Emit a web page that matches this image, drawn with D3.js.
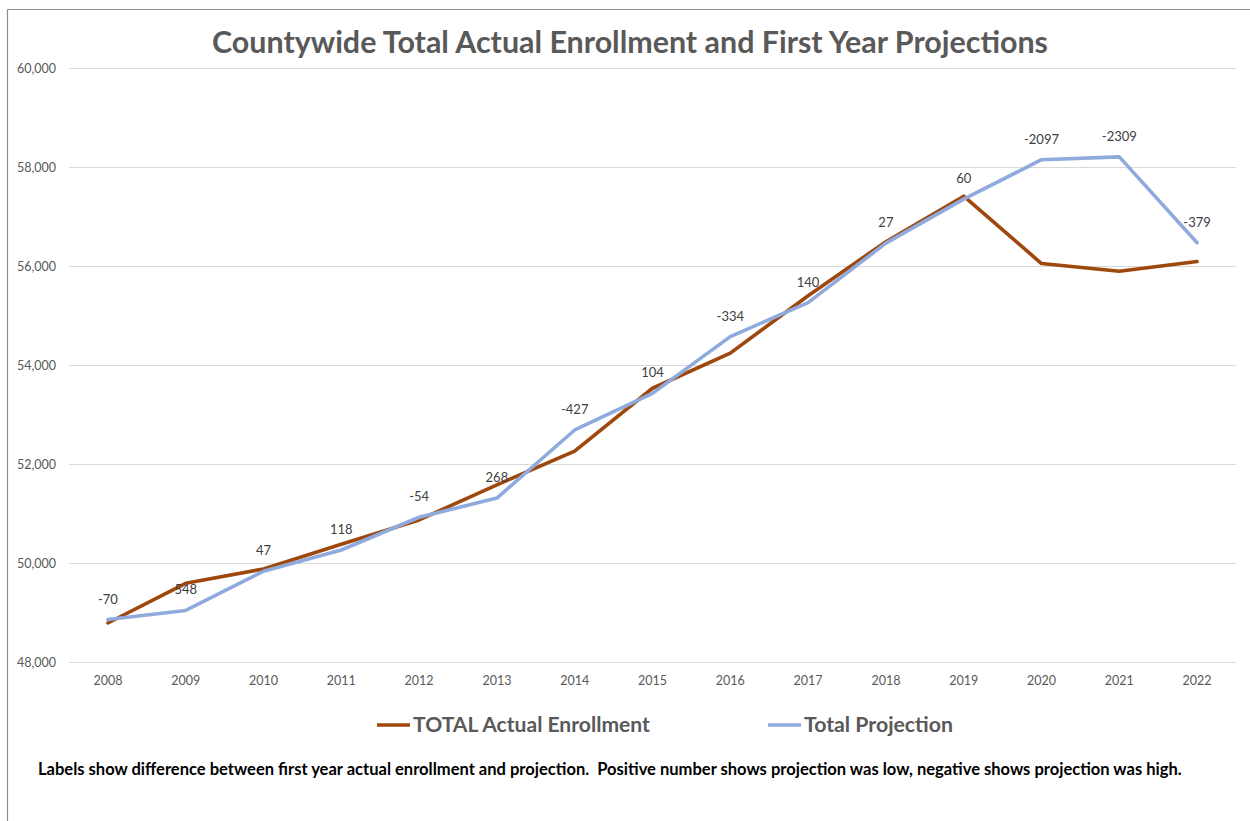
<!DOCTYPE html>
<html>
<head>
<meta charset="utf-8">
<script src="https://cdn.jsdelivr.net/npm/d3@7"></script>
<style>
  html, body { margin: 0; padding: 0; background: #fff; }
  svg { display: block; font-family: Lato, "Open Sans", "DejaVu Sans", sans-serif; }
</style>
</head>
<body>
<svg id="chart" width="1250" height="821"></svg>
<script>
// School years shown on the category axis
const years = ["2008","2009","2010","2011","2012","2013","2014","2015","2016","2017","2018","2019","2020","2021","2022"];

// Countywide actual enrollment, by year
const actualEnrollment = [48788, 49590, 49880, 50380, 50870, 51580, 52260, 53530, 54240, 55400, 56490, 57410, 56050, 55895, 56090];

// First-year projection for the same years
const totalProjection = [48858, 49042, 49833, 50262, 50924, 51312, 52687, 53426, 54574, 55260, 56463, 57350, 58147, 58204, 56469];

// Difference labels (actual minus projection)
const diffLabels = ["-70","548","47","118","-54","268","-427","104","-334","140","27","60","-2097","-2309","-379"];

// Value axis ticks
const yTicks = [48000, 50000, 52000, 54000, 56000, 58000, 60000];

const seriesNames = ["TOTAL Actual Enrollment", "Total Projection"];
const seriesColors = ["#9E480E", "#8FAADC"];

const svg = d3.select("#chart");
const W = 1250, H = 821;

// Fit a text element to a given width by scaling its font size
function fitWidth(sel, target) {
  const node = sel.node();
  const fs = parseFloat(sel.attr("font-size"));
  const w = node.getComputedTextLength();
  if (w > 0) sel.attr("font-size", (fs * target / w).toFixed(2));
}

// Outer frame (top and left edges)
svg.append("line").attr("x1", 7.5).attr("x2", W).attr("y1", 9.5).attr("y2", 9.5)
  .attr("stroke", "#8c8c8c").attr("stroke-width", 1.2);
svg.append("line").attr("x1", 7.5).attr("x2", 7.5).attr("y1", 9.5).attr("y2", H)
  .attr("stroke", "#8c8c8c").attr("stroke-width", 1.2);

const plot = { left: 69, right: 1236, top: 68, bottom: 662 };

const x = d3.scaleBand().domain(years).range([plot.left, plot.right]);
const y = d3.scaleLinear().domain([48000, 60000]).range([plot.bottom, plot.top]);
const cx = d => x(d) + x.bandwidth() / 2;

// Gridlines and value labels
const yAxis = d3.axisLeft(y).tickValues(yTicks).tickFormat(d3.format(",")).tickSize(-(plot.right - plot.left)).tickPadding(13);
const gy = svg.append("g").attr("transform", `translate(${plot.left},0)`).call(yAxis);
gy.select(".domain").remove();
gy.selectAll(".tick line").attr("stroke", "#d9d9d9").attr("stroke-width", 1);
gy.selectAll(".tick text").attr("fill", "#595959").attr("font-size", 12.5).attr("font-family", "Lato, sans-serif");

// Category labels
const xAxis = d3.axisBottom(x).tickSize(0).tickPadding(14);
const gx = svg.append("g").attr("transform", `translate(0,${plot.bottom})`).call(xAxis);
gx.select(".domain").remove();
gx.selectAll(".tick text").attr("fill", "#595959").attr("font-size", 12.5).attr("font-family", "Lato, sans-serif");

// Series lines
const line = d3.line().x((d, i) => cx(years[i])).y(d => y(d));
[actualEnrollment, totalProjection].forEach((vals, k) => {
  svg.append("path")
    .datum(vals)
    .attr("d", line)
    .attr("fill", "none")
    .attr("stroke", seriesColors[k])
    .attr("stroke-width", 3.6)
    .attr("stroke-linejoin", "round")
    .attr("stroke-linecap", "round");
});

// Difference labels above the projection points
svg.append("g").selectAll("text")
  .data(diffLabels)
  .join("text")
  .attr("x", (d, i) => cx(years[i]))
  .attr("y", (d, i) => y(totalProjection[i]) - 16)
  .attr("text-anchor", "middle")
  .attr("fill", "#404040")
  .attr("font-size", 13)
  .text(d => d);

// Title
const title = svg.append("text")
  .attr("x", 630).attr("y", 53)
  .attr("text-anchor", "middle")
  .attr("fill", "#595959")
  .attr("font-weight", "bold")
  .attr("font-size", 30)
  .text("Countywide Total Actual Enrollment and First Year Projections");
fitWidth(title, 836);

// Legend
const legendItems = [
  { x0: 377, tx: 413, w: 237 },
  { x0: 768, tx: 804, w: 149 }
];
legendItems.forEach((it, k) => {
  svg.append("line")
    .attr("x1", it.x0).attr("x2", it.x0 + 33)
    .attr("y1", 725).attr("y2", 725)
    .attr("stroke", seriesColors[k]).attr("stroke-width", 3.6);
  const t = svg.append("text")
    .attr("x", it.tx).attr("y", 732)
    .attr("fill", "#595959")
    .attr("font-weight", "bold")
    .attr("font-size", 20)
    .text(seriesNames[k]);
  fitWidth(t, it.w);
});

// Footnote
const note = svg.append("text")
  .attr("x", 38).attr("y", 775)
  .attr("fill", "#000")
  .attr("font-weight", "bold")
  .attr("font-size", 15)
  .attr("xml:space", "preserve")
  .text("Labels show difference between first year actual enrollment and projection.  Positive number shows projection was low, negative shows projection was high.");
fitWidth(note, 1145);
</script>
</body>
</html>
